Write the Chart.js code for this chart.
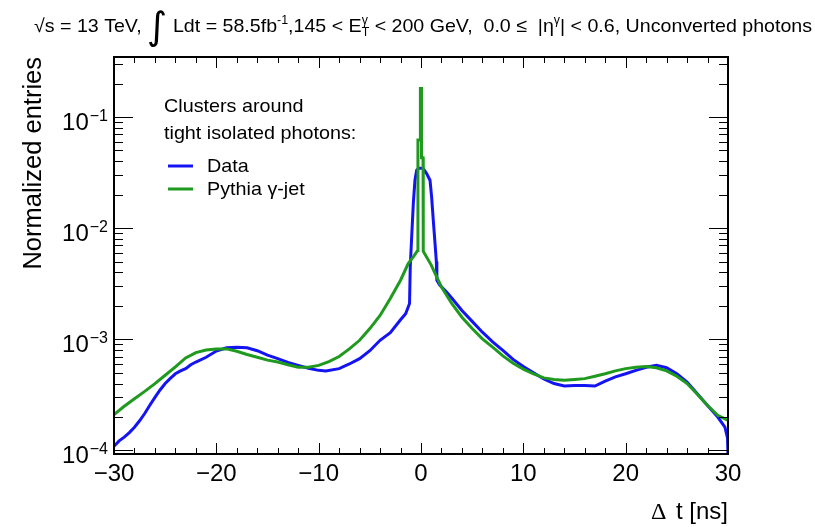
<!DOCTYPE html>
<html><head><meta charset="utf-8">
<script src="https://cdn.jsdelivr.net/npm/chart.js@4"></script>
<style>html,body{margin:0;padding:0;background:#fff}</style>
</head><body>
<canvas id="c" width="815" height="527"></canvas>
<script>
// ---- data ----
const dataTime = [-30,-29.5,-29,-28.5,-28,-27.5,-27,-26.5,-26,-25.5,-25,-24.5,-24,-23.5,-23,-22.5,-22,-21,-20,-19,-18,-17,-16,-15,-14,-13,-12,-11,-10,-9.3,-8,-7,-6,-5,-4,-3,-2,-1.5,-1.12,-1.05,-0.91,-0.75,-0.59,-0.42,-0.2,0.2,0.55,0.88,1.04,1.2,1.37,1.5,1.55,1.85,2.5,3,4,5,6,7,8,9,10,11,12,13,14,15,16,17,18,19,20,21,22,23,24,25,26,27,28,29,29.7,29.95,30];
const dataValues = [1.09e-4,1.22e-4,1.32e-4,1.45e-4,1.62e-4,1.85e-4,2.15e-4,2.55e-4,3.0e-4,3.5e-4,4.0e-4,4.45e-4,4.9e-4,5.2e-4,5.45e-4,5.9e-4,6.25e-4,6.9e-4,7.85e-4,8.4e-4,8.5e-4,8.4e-4,7.9e-4,7.2e-4,6.7e-4,6.2e-4,5.83e-4,5.5e-4,5.26e-4,5.2e-4,5.45e-4,6.0e-4,6.7e-4,7.9e-4,9.8e-4,1.15e-3,1.5e-3,1.7e-3,2.1e-3,4.5e-3,8.4e-3,0.0167,0.027,0.0333,0.0345,0.0345,0.031,0.027,0.019,0.0118,0.0073,5.0e-3,3.4e-3,3.06e-3,2.67e-3,2.35e-3,1.82e-3,1.45e-3,1.16e-3,9.5e-4,7.96e-4,6.6e-4,5.7e-4,5.0e-4,4.4e-4,4.0e-4,3.8e-4,3.85e-4,3.85e-4,3.8e-4,4.2e-4,4.6e-4,4.9e-4,5.26e-4,5.6e-4,5.83e-4,5.55e-4,4.9e-4,4.13e-4,3.24e-4,2.54e-4,2.0e-4,1.62e-4,1.3e-4,9e-5];
const mcTime = [-30,-29,-28,-27,-26,-25,-24,-23,-22,-21,-20,-19,-18,-17,-16,-15,-14,-13,-12,-11,-10,-9,-8,-7,-6,-5,-4,-3,-2,-1.25,-0.7,-0.33,-0.3,-0.06,-0.06,0.05,0.05,0.2,0.22,0.5,1,1.5,2,3,4,5,6,7,8,9,10,11,12,13,14,15,16,17,18,19,20,21,22,23,24,25,26,27,28,29,30];
const mcValues = [2.1e-4,2.5e-4,2.92e-4,3.4e-4,3.99e-4,4.75e-4,5.64e-4,6.8e-4,7.6e-4,8.0e-4,8.2e-4,8.2e-4,7.8e-4,7.3e-4,6.9e-4,6.5e-4,6.25e-4,5.9e-4,5.6e-4,5.6e-4,5.83e-4,6.3e-4,7.0e-4,8.2e-4,9.8e-4,1.25e-3,1.64e-3,2.33e-3,3.4e-3,4.8e-3,5.6e-3,6.3e-3,0.062,0.062,0.18,0.18,0.043,0.043,6.2e-3,5.6e-3,4.65e-3,3.7e-3,2.96e-3,2.1e-3,1.58e-3,1.25e-3,1.01e-3,8.5e-4,7.1e-4,6.1e-4,5.4e-4,4.9e-4,4.5e-4,4.35e-4,4.28e-4,4.35e-4,4.43e-4,4.65e-4,4.9e-4,5.2e-4,5.45e-4,5.6e-4,5.7e-4,5.55e-4,5.2e-4,4.65e-4,4.0e-4,3.2e-4,2.54e-4,2.07e-4,1.86e-4];
const seriesNames = ['Data', 'Pythia γ-jet'];
const legendHeader = ['Clusters around', 'tight isolated photons:'];
const xTickLabels = [-30,-20,-10,0,10,20,30];
const yTickExponents = [-4,-3,-2,-1];
const xTitle = ['Δ', 't [ns]'];
const yTitle = 'Normalized entries';

const BLUE = '#1414f2', GREEN = '#1f9a1f';
const SANS = '"Liberation Sans", Arial, sans-serif';

function pts(t, v){ return t.map((x,i)=>({x:x, y:v[i]})); }

const frame = {
  id:'rootFrame',
  afterDraw(chart){
    const ctx = chart.ctx, a = chart.chartArea;
    const xs = chart.scales.x, ys = chart.scales.y;
    ctx.save();
    // ticks
    ctx.strokeStyle = '#000'; ctx.lineWidth = 1;
    ctx.beginPath();
    for (let v=-30; v<=30; v+=2){
      const px = Math.round(xs.getPixelForValue(v))+0.5;
      const L = (v%10===0) ? 11 : 6;
      ctx.moveTo(px, a.bottom); ctx.lineTo(px, a.bottom-L);
      ctx.moveTo(px, a.top); ctx.lineTo(px, a.top+L);
    }
    for (let e=-5; e<=0; e++){
      for (let m=1; m<=9; m++){
        const v = m*Math.pow(10,e);
        if (v < ys.min || v > ys.max) continue;
        const py = Math.round(ys.getPixelForValue(v))+0.5;
        const L = (m===1) ? 19 : 9;
        ctx.moveTo(a.left, py); ctx.lineTo(a.left+L, py);
        ctx.moveTo(a.right, py); ctx.lineTo(a.right-L, py);
      }
    }
    ctx.stroke();
    // frame
    ctx.lineWidth = 2;
    ctx.strokeRect(a.left, a.top, a.right-a.left, a.bottom-a.top);

    ctx.fillStyle = '#000';
    // x tick labels
    ctx.font = '24px ' + SANS; ctx.textAlign = 'center'; ctx.textBaseline = 'alphabetic';
    xTickLabels.forEach(v=>{
      const s = v<0 ? '\u2212'+Math.abs(v) : String(v);
      ctx.fillText(s, xs.getPixelForValue(v), 481);
    });
    // y tick labels 10^n
    yTickExponents.forEach(e=>{
      const py = ys.getPixelForValue(Math.pow(10,e));
      const sup = '\u2212' + Math.abs(e);
      ctx.font = '16px ' + SANS; ctx.textAlign = 'left';
      const sw = ctx.measureText(sup).width;
      const xEnd = 108;
      ctx.fillText(sup, xEnd - sw, py + 4);
      ctx.font = '24px ' + SANS; ctx.textAlign = 'right';
      ctx.fillText('10', xEnd - sw - 1, py + 13);
    });
    // x title
    ctx.textAlign = 'right';
    ctx.font = '24px ' + SANS;
    ctx.fillText(xTitle[1], a.right, 519);
    ctx.textAlign = 'left';
    ctx.font = '24px "Liberation Serif", serif';
    ctx.fillText(xTitle[0], 651, 519);
    // y title
    ctx.save();
    ctx.translate(41, a.top);
    ctx.rotate(-Math.PI/2);
    ctx.font = '25.5px ' + SANS; ctx.textAlign = 'right';
    ctx.fillText(yTitle, 0, 0);
    ctx.restore();

    // legend
    ctx.textAlign = 'left';
    ctx.save();
    ctx.translate(164, 0); ctx.scale(1.04, 1);
    ctx.font = '19px ' + SANS;
    ctx.fillText(legendHeader[0], 0, 112);
    ctx.fillText(legendHeader[1], 0, 139);
    ctx.fillText(seriesNames[0], (207-164)/1.04, 172);
    ctx.fillText(seriesNames[1], (207-164)/1.04, 195);
    ctx.restore();
    ctx.lineWidth = 3;
    [[BLUE, 166],[GREEN, 189]].forEach(d=>{
      ctx.strokeStyle = d[0];
      ctx.beginPath(); ctx.moveTo(168, d[1]); ctx.lineTo(193, d[1]); ctx.stroke();
    });

    // title with sub/superscripts, condensed to fit
    const runs = [
      {t:'\u221As = 13 TeV, ', s:19},
      {t:'\u222B', s:38, dy:7, f:'"DejaVu Sans", sans-serif'},
      {t:' Ldt = 58.5fb', s:19},
      {t:'-1', s:12, dy:-8},
      {t:',145 < E', s:19},
      {sup:'\u03B3', sub:'T', s:12},
      {t:' < 200 GeV,  0.0 \u2264  |\u03B7', s:19},
      {t:'\u03B3', s:12, dy:-8},
      {t:'| < 0.6, Unconverted photons', s:19}
    ];
    let total = 0;
    runs.forEach(r=>{
      ctx.font = r.s + 'px ' + (r.f || SANS);
      if (r.sup) r.w = Math.max(ctx.measureText(r.sup).width, ctx.measureText(r.sub).width);
      else r.w = ctx.measureText(r.t).width;
      total += r.w;
    });
    const x0 = 34, x1 = 812, base = 32;
    const k = (x1-x0)/total;
    ctx.save();
    ctx.translate(x0, base); ctx.scale(k, 1);
    let cx = 0;
    runs.forEach(r=>{
      ctx.font = r.s + 'px ' + (r.f || SANS);
      if (r.sup){
        ctx.fillText(r.sup, cx, -8);
        ctx.fillText(r.sub, cx, 4);
      } else {
        ctx.fillText(r.t, cx, r.dy || 0);
      }
      cx += r.w;
    });
    ctx.restore();
    ctx.restore();
  }
};

new Chart(document.getElementById('c'), {
  type:'line',
  data:{ datasets:[
    {label:seriesNames[1], data:pts(mcTime, mcValues), borderColor:GREEN, borderWidth:3, pointRadius:0, tension:0, fill:false},
    {label:seriesNames[0], data:pts(dataTime, dataValues), borderColor:BLUE, borderWidth:3, pointRadius:0, tension:0, fill:false}
  ]},
  options:{
    responsive:false, animation:false, devicePixelRatio:1,
    layout:{padding:{left:114, right:87, top:57, bottom:73}},
    plugins:{legend:{display:false}, tooltip:{enabled:false}},
    scales:{
      x:{type:'linear', min:-30, max:30, display:false},
      y:{type:'logarithmic', min:9.3e-5, max:0.3464, display:false}
    }
  },
  plugins:[frame]
});
</script>
</body></html>
